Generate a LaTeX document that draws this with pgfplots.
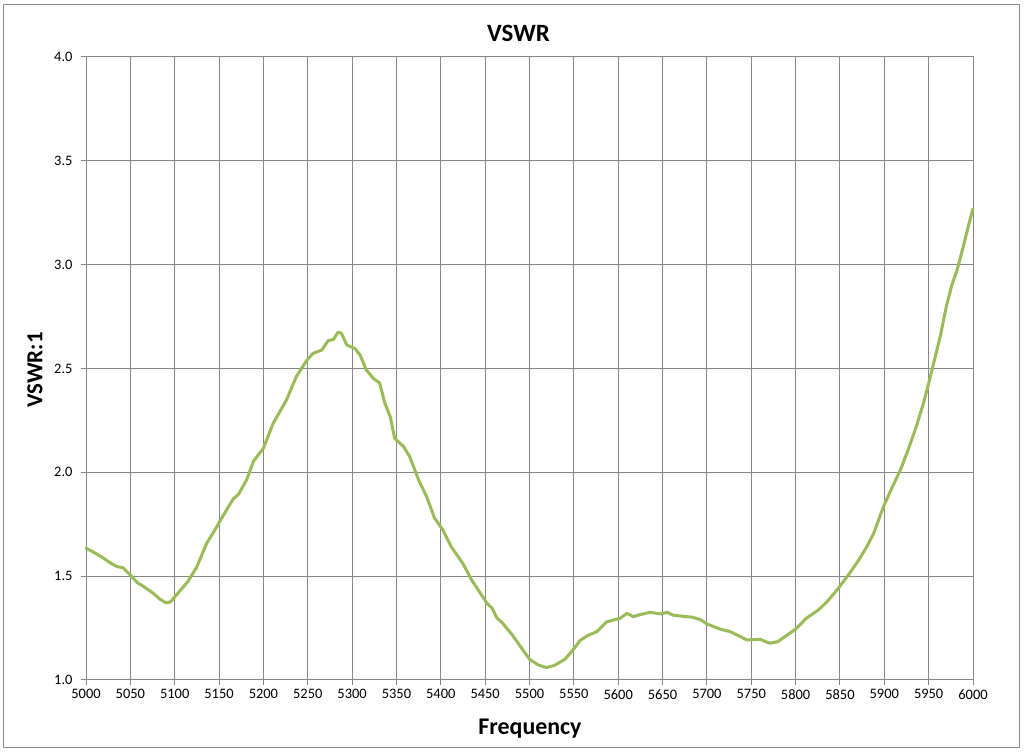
\documentclass[border=0pt]{standalone}
\usepackage{fontspec}
\setmainfont{Carlito}
\usepackage{pgfplots}
\pgfplotsset{compat=1.18}
\definecolor{gridgray}{RGB}{134,134,134}
\definecolor{vgreen}{RGB}{155,187,89}
\definecolor{bordergray}{RGB}{140,140,140}
\begin{document}
\begin{tikzpicture}[x=1bp,y=1bp]
\path[use as bounding box] (0,0) rectangle (1024,752);
\draw[bordergray, line width=1bp] (3.5,4) rectangle (1019.5,747.5);
\begin{axis}[
  at={(86bp,72bp)}, anchor=south west,
  scale only axis, width=887bp, height=623bp,
  xmin=5000, xmax=6000, ymin=1, ymax=4,
  xtick={5000,5050,...,6000}, ytick={1.0,1.5,...,4.0},
  grid=major,
  major grid style={gridgray, line width=1bp},
  axis line style={gridgray, line width=1bp},
  tick style={gridgray, line width=1bp},
  tick align=outside, major tick length=5bp,
  xtick pos=bottom, ytick pos=left,
  /pgf/number format/assume math mode=true,
  xticklabel style={font=\fontsize{14.5}{16}\selectfont, /pgf/number format/1000 sep={}, yshift=-1bp},
  yticklabel style={font=\fontsize{14.5}{16}\selectfont, /pgf/number format/fixed, /pgf/number format/fixed zerofill, /pgf/number format/precision=1, xshift=-5bp},
  scaled ticks=false,
  clip=false,
]
\addplot[vgreen, line width=3bp, line join=round, line cap=round] coordinates {
(5000,1.635) (5010,1.612) (5020,1.586) (5028,1.562) (5035,1.546) (5042,1.540)
(5050,1.505) (5058,1.468) (5065,1.450) (5076,1.417) (5083,1.390) (5090,1.372)
(5095,1.375) (5100,1.400) (5108,1.440) (5115,1.475) (5125,1.545) (5136,1.658)
(5145,1.720) (5151,1.765) (5160,1.830) (5166,1.872) (5172,1.895) (5181,1.963)
(5189,2.055) (5200,2.116) (5211,2.236) (5226,2.348) (5237,2.460) (5249,2.540)
(5256,2.573) (5266,2.589) (5273,2.634) (5279,2.640) (5284,2.674) (5288,2.670)
(5294,2.613) (5303,2.597) (5309,2.565) (5316,2.493) (5324,2.452) (5331,2.430)
(5337,2.332) (5343,2.268) (5348,2.164) (5358,2.124) (5365,2.075) (5375,1.963)
(5384,1.883) (5393,1.779) (5402,1.725) (5412,1.640) (5425,1.560) (5435,1.480)
(5445,1.415) (5452,1.370) (5458,1.345) (5463,1.300) (5470,1.272) (5480,1.220)
(5490,1.160) (5500,1.100) (5510,1.072) (5519,1.060) (5528,1.070) (5540,1.100)
(5550,1.150) (5557,1.190) (5566,1.215) (5576,1.233) (5587,1.280) (5602,1.297)
(5610,1.321) (5617,1.305) (5625,1.315) (5636,1.326) (5648,1.318) (5655,1.326)
(5662,1.312) (5684,1.302) (5693,1.290) (5700,1.270) (5715,1.245) (5726,1.233)
(5735,1.215) (5745,1.193) (5760,1.196) (5766,1.185) (5771,1.177) (5780,1.185)
(5790,1.215) (5800,1.245) (5812,1.297) (5825,1.335) (5835,1.375) (5846,1.430)
(5858,1.497) (5870,1.570) (5880,1.640) (5888,1.706) (5899,1.834) (5908,1.920)
(5918,2.010) (5927,2.110) (5936,2.220) (5944,2.330) (5951,2.445) (5957,2.550)
(5963,2.653) (5970,2.800) (5976,2.900) (5982,2.974) (5989,3.087) (5995,3.190)
(6000,3.270)
};
\end{axis}
\node[font=\fontsize{25}{28}\selectfont\bfseries, anchor=base] at (518.5,710) {VSWR};
\node[font=\fontsize{23}{26}\selectfont\bfseries, rotate=90] at (35,382) {VSWR:1};
\node[font=\fontsize{24}{27}\selectfont\bfseries, anchor=base] at (530,17) {Frequency};
\end{tikzpicture}
\end{document}
